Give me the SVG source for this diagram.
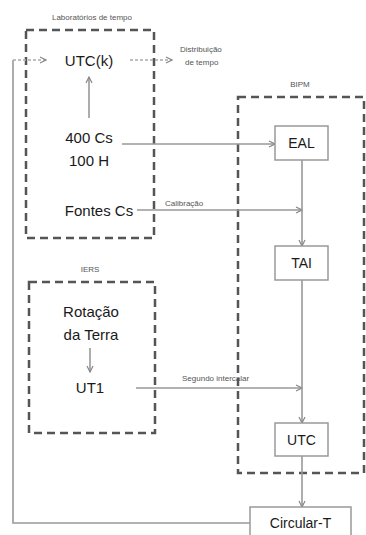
<svg xmlns="http://www.w3.org/2000/svg" width="366" height="535" viewBox="0 0 366 535">
<style>
text{font-family:"Liberation Sans",Arial,sans-serif;fill:#1a1a1a}
.big{font-size:15px;text-anchor:middle}
.box text{font-size:14px;text-anchor:middle}
.sm{font-size:8px;fill:#555}
.grp{fill:none;stroke:#555;stroke-width:2.5;stroke-dasharray:8 5}
.nb{fill:#fff;stroke:#999;stroke-width:1.5}
.ln{fill:none;stroke:#999;stroke-width:1.6}
.dot{fill:none;stroke:#aaa;stroke-width:1.4;stroke-dasharray:3 2}
</style>
<defs>
<marker id="ah" markerWidth="8" markerHeight="8" refX="7" refY="4" orient="auto" markerUnits="userSpaceOnUse">
<path d="M1,1 L7,4 L1,7" fill="none" stroke="#888" stroke-width="1.2"/>
</marker>
</defs>
<rect width="366" height="535" fill="#fff"/>
<g id="lab">
<rect class="grp" x="26" y="30" width="128" height="208"/>
<text class="sm" x="92" y="20" text-anchor="middle">Laboratórios de tempo</text>
<text class="big" x="89" y="66">UTC(k)</text>
<text class="big" x="89" y="143">400 Cs</text>
<text class="big" x="89" y="166">100 H</text>
<text class="big" x="99" y="216">Fontes Cs</text>
</g>
<g id="iers">
<rect class="grp" x="29" y="282" width="126" height="151"/>
<text class="sm" x="90" y="272" text-anchor="middle">IERS</text>
<text class="big" x="91" y="317" fill="#444">Rotação</text>
<text class="big" x="91" y="340" fill="#444">da Terra</text>
<text class="big" x="90" y="393">UT1</text>
</g>
<g id="bipm">
<rect class="grp" x="238" y="97" width="126" height="376"/>
<text class="sm" x="300" y="87" text-anchor="middle">BIPM</text>
</g>
<g id="connectors">
<path class="ln" d="M250,523 H13 V60"/>
<path class="dot" d="M13,60 H46" marker-end="url(#ah)"/>
<path class="dot" d="M130,60 H172" marker-end="url(#ah)"/>
<path class="ln" d="M89,118 V77" marker-end="url(#ah)"/>
<path class="ln" d="M122,144 H275" marker-end="url(#ah)"/>
<path class="ln" d="M137,210 H302" marker-end="url(#ah)"/>
<path class="ln" d="M302,160 V246" marker-end="url(#ah)"/>
<path class="ln" d="M90,348 V372" marker-end="url(#ah)"/>
<path class="ln" d="M136,388 H302" marker-end="url(#ah)"/>
<path class="ln" d="M302,280 V423" marker-end="url(#ah)"/>
<path class="ln" d="M302,456 V507" marker-end="url(#ah)"/>
<text class="sm" x="180" y="52">Distribuição</text>
<text class="sm" x="185" y="65">de tempo</text>
<text class="sm" x="165" y="206" fill="#7a5a5a">Calibração</text>
<text class="sm" x="182" y="381" fill="#444">Segundo intercalar</text>
</g>
<g id="EAL" class="box">
<rect class="nb" x="275" y="126" width="53" height="34"/>
<text x="301.5" y="148">EAL</text>
</g>
<g id="TAI" class="box">
<rect class="nb" x="275" y="246" width="53" height="34"/>
<text x="301.5" y="268">TAI</text>
</g>
<g id="UTC" class="box">
<rect class="nb" x="275" y="423" width="53" height="33"/>
<text x="301.5" y="445">UTC</text>
</g>
<g id="CircularT" class="box">
<rect class="nb" x="250" y="507" width="101" height="34"/>
<text x="300.5" y="528">Circular-T</text>
</g>
</svg>
